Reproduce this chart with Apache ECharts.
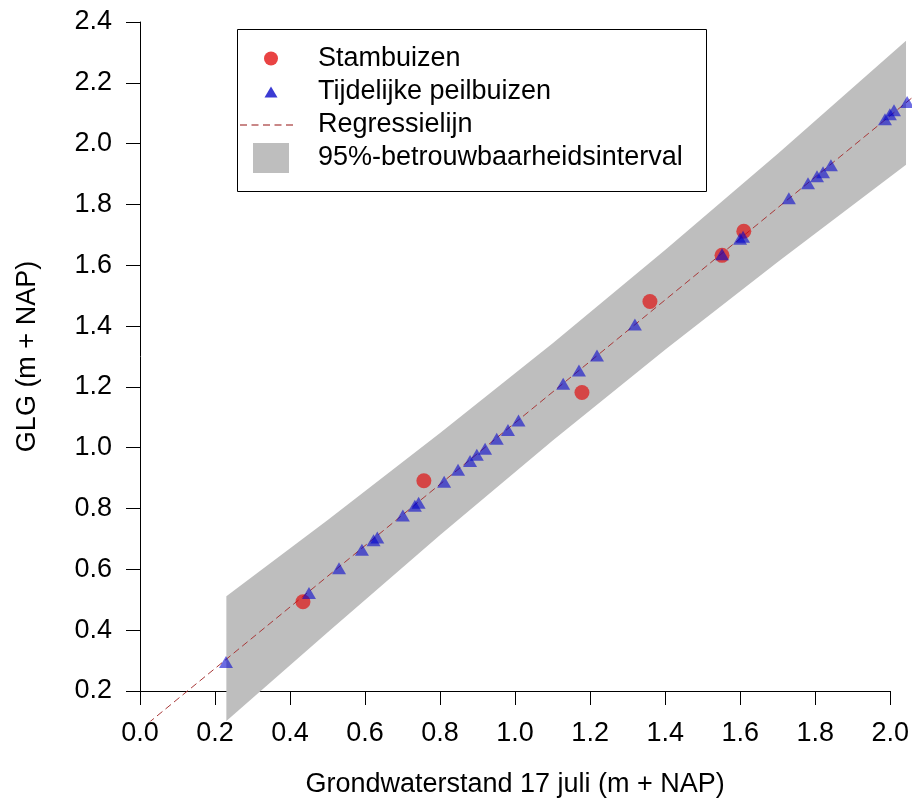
<!DOCTYPE html>
<html>
<head>
<meta charset="utf-8">
<script src="https://cdn.jsdelivr.net/npm/echarts@6/dist/echarts.min.js"></script>
<style>
html, body { margin: 0; padding: 0; background: #fff; }
#myChart { width: 912px; height: 803px; }
</style>
</head>
<body>
<div id="myChart"></div>
<script>
// Stambuizen (rode punten)
var stamX = [0.434, 0.756, 1.177, 1.358, 1.550, 1.608];
var stamY = [0.502, 0.898, 1.187, 1.485, 1.636, 1.715];

// Tijdelijke peilbuizen (blauwe driehoeken)
var tijdX = [0.229, 0.450, 0.530, 0.591, 0.622, 0.632, 0.700, 0.732, 0.742, 0.810, 0.847,
             0.879, 0.897, 0.919, 0.950, 0.980, 1.008, 1.127, 1.169, 1.217, 1.318, 1.550,
             1.598, 1.606, 1.728, 1.779, 1.803, 1.819, 1.840, 1.984, 1.997, 2.008, 2.043];
var tijdY = [0.305, 0.531, 0.612, 0.672, 0.703, 0.712, 0.784, 0.816, 0.826, 0.895, 0.934,
             0.963, 0.983, 1.003, 1.036, 1.064, 1.095, 1.216, 1.259, 1.308, 1.410, 1.640,
             1.690, 1.697, 1.823, 1.872, 1.895, 1.908, 1.931, 2.082, 2.098, 2.111, 2.138];

// 95%-betrouwbaarheidsinterval (randen van de grijze band)
var bandX    = [0.23, 0.50, 0.80, 1.10, 1.40, 1.70, 2.04];
var bandLow  = [0.108, 0.402, 0.721, 1.031, 1.329, 1.616, 1.933];
var bandHigh = [0.520, 0.770, 1.055, 1.349, 1.655, 1.970, 2.339];

// as-ticks
var xTicks = [0.0, 0.2, 0.4, 0.6, 0.8, 1.0, 1.2, 1.4, 1.6, 1.8, 2.0];
var yTicks = [0.2, 0.4, 0.6, 0.8, 1.0, 1.2, 1.4, 1.6, 1.8, 2.0, 2.2, 2.4];

// regressielijn: kleinste kwadraten op de stambuizen
function fit(xs, ys) {
  var n = xs.length, mx = 0, my = 0, sxx = 0, sxy = 0;
  for (var i = 0; i < n; i++) { mx += xs[i] / n; my += ys[i] / n; }
  for (var j = 0; j < n; j++) {
    sxx += (xs[j] - mx) * (xs[j] - mx);
    sxy += (xs[j] - mx) * (ys[j] - my);
  }
  var b = sxy / sxx;
  return { a: my - b * mx, b: b };
}
var reg = fit(stamX, stamY);
var regX = [0, 2.2];

function pairs(xs, ys) {
  return xs.map(function (x, i) { return [x, ys[i]]; });
}

// layout (px)
var axL = 140, axT = 22, axW = 751, axH = 672;
var pxX = axW / (xTicks[xTicks.length - 1] - xTicks[0]);
var pxY = axH / (yTicks[yTicks.length - 1] - yTicks[0]);
var plotYMin = 0.112;          // onderrand plotgebied (lijn en band worden hier afgekapt)
var plotW = 912 - axL;

var font = 'Liberation Sans, Arial, sans-serif';
var fs = 27;

var myChart = echarts.init(document.getElementById('myChart'));

// grijze band als polygoon: bovenrand heen, onderrand terug
function renderBand(params, api) {
  if (params.dataIndex !== 0) return;
  var pts = [];
  for (var i = 0; i < bandX.length; i++) pts.push(api.coord([bandX[i], bandHigh[i]]));
  for (var j = bandX.length - 1; j >= 0; j--) pts.push(api.coord([bandX[j], bandLow[j]]));
  pts = echarts.graphic.clipPointsByRect(pts, params.coordSys);
  return {
    type: 'polygon',
    shape: { points: pts },
    style: { fill: '#bebebe', stroke: null }
  };
}

myChart.setOption({
  animation: false,
  backgroundColor: '#fff',
  grid: [
    { left: axL, top: axT, width: plotW, height: (yTicks[yTicks.length - 1] - plotYMin) * pxY },
    { left: axL, top: axT, width: axW, height: axH }
  ],
  xAxis: [
    { gridIndex: 0, type: 'value', min: xTicks[0], max: xTicks[0] + plotW / pxX, show: false },
    {
      gridIndex: 1, type: 'value',
      min: xTicks[0], max: xTicks[xTicks.length - 1], interval: xTicks[1] - xTicks[0],
      name: 'Grondwaterstand 17 juli (m + NAP)',
      nameLocation: 'middle', nameGap: 80,
      nameTextStyle: { fontSize: fs, fontFamily: font, color: '#000' },
      axisLine: { lineStyle: { color: '#000', width: 1 } },
      axisTick: { length: 14, lineStyle: { color: '#000', width: 1 } },
      axisLabel: { fontSize: fs, fontFamily: font, color: '#000', margin: 29,
        formatter: function (v) { return v.toFixed(1); } },
      splitLine: { show: false }
    }
  ],
  yAxis: [
    { gridIndex: 0, type: 'value', min: plotYMin, max: yTicks[yTicks.length - 1], show: false },
    {
      gridIndex: 1, type: 'value',
      min: yTicks[0], max: yTicks[yTicks.length - 1], interval: yTicks[1] - yTicks[0],
      name: 'GLG (m + NAP)',
      nameLocation: 'middle', nameGap: 99,
      nameTextStyle: { fontSize: fs, fontFamily: font, color: '#000' },
      axisLine: { show: true, lineStyle: { color: '#000', width: 1 } },
      axisTick: { show: true, length: 14, lineStyle: { color: '#000', width: 1 } },
      axisLabel: { fontSize: fs, fontFamily: font, color: '#000', margin: 28,
        formatter: function (v) { return v.toFixed(1); } },
      splitLine: { show: false }
    }
  ],
  legend: [
    {
      data: [{ name: 'Stambuizen', icon: 'circle', itemStyle: { color: '#e41414', borderWidth: 0 } }],
      left: 264, top: 45, padding: 0, itemWidth: 84, itemHeight: 14, selectedMode: false,
      textStyle: { fontSize: fs, fontFamily: font, color: '#000' }
    },
    {
      data: [{ name: 'Tijdelijke peilbuizen', icon: 'path://M6.5,0L13,11L0,11Z',
        itemStyle: { color: '#0a0ac8', borderWidth: 0 } }],
      left: 264.5, top: 78.5, padding: 0, itemWidth: 84, itemHeight: 11, selectedMode: false,
      textStyle: { fontSize: fs, fontFamily: font, color: '#000' }
    },
    {
      data: [{ name: 'Regressielijn',
        icon: 'path://M0,0h7v1.4h-7zM11.5,0h7v1.4h-7zM23,0h7v1.4h-7zM34.5,0h7v1.4h-7zM46,0h7v1.4h-7z',
        itemStyle: { color: '#b86060', borderWidth: 0 } }],
      left: 240, top: 111.5, padding: 0, itemWidth: 93, itemHeight: 1.4, selectedMode: false,
      textStyle: { fontSize: fs, fontFamily: font, color: '#000' }
    },
    {
      data: [{ name: '95%-betrouwbaarheidsinterval', icon: 'path://M0,0h36v30h-36z',
        itemStyle: { color: '#bebebe', borderWidth: 0 } }],
      left: 253, top: 143, padding: 0, itemWidth: 84, itemHeight: 30, selectedMode: false,
      textStyle: { fontSize: fs, fontFamily: font, color: '#000' }
    }
  ],
  graphic: [
    { type: 'rect', left: 235, top: 27, shape: { width: 469, height: 162 },
      style: { fill: 'none', stroke: '#000', lineWidth: 1 }, z: 10 }
  ],
  series: [
    {
      name: '95%-betrouwbaarheidsinterval', type: 'custom', xAxisIndex: 0, yAxisIndex: 0,
      data: bandX.map(function (x, i) { return [x, bandLow[i], bandHigh[i]]; }),
      encode: { x: 0, y: [1, 2] },
      itemStyle: { color: '#bebebe' },
      renderItem: renderBand,
      z: 1
    },
    {
      name: 'Regressielijn', type: 'line', xAxisIndex: 0, yAxisIndex: 0,
      data: regX.map(function (x) { return [x, reg.a + reg.b * x]; }),
      symbol: 'none',
      lineStyle: { color: '#a83838', width: 1, type: [7, 4] },
      z: 2
    },
    {
      name: 'Stambuizen', type: 'scatter', xAxisIndex: 0, yAxisIndex: 0,
      data: pairs(stamX, stamY), symbol: 'circle', symbolSize: 15,
      itemStyle: { color: 'rgba(225,0,0,0.8)' },
      z: 3
    },
    {
      name: 'Tijdelijke peilbuizen', type: 'scatter', xAxisIndex: 0, yAxisIndex: 0,
      data: pairs(tijdX, tijdY), symbol: 'triangle', symbolSize: [14, 12],
      itemStyle: { color: 'rgba(0,0,205,0.72)' },
      z: 4
    }
  ]
});

window.addEventListener('resize', function () {
  myChart.resize();
});
</script>
</body>
</html>
